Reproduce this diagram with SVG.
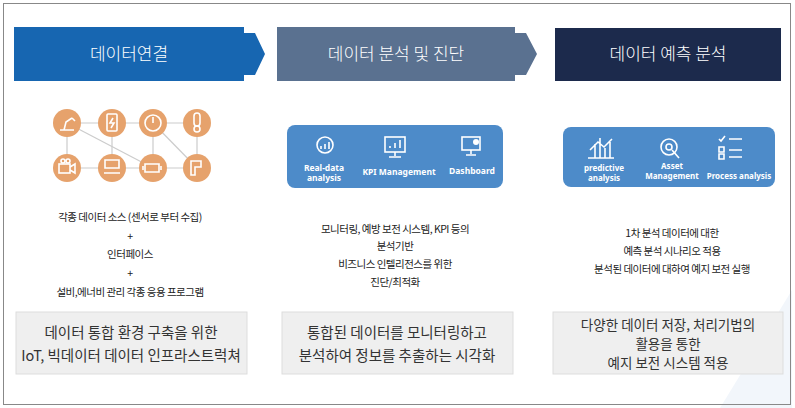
<svg xmlns="http://www.w3.org/2000/svg" width="795" height="408" viewBox="0 0 795 408">
<style>
.h{font-family:"Noto Sans CJK KR","Noto Sans",sans-serif;font-size:17px;font-weight:300;fill:#fff;text-anchor:middle}
.t{font-family:"Noto Sans CJK KR",sans-serif;font-size:10.5px;fill:#222;text-anchor:middle;letter-spacing:-0.5px}
.b{font-family:"Noto Sans CJK KR",sans-serif;font-size:14.5px;fill:#333;text-anchor:middle}
.b3{font-size:13.5px}
.w{font-family:"Noto Sans","Liberation Sans",sans-serif;font-size:8.5px;font-weight:bold;fill:#fff;text-anchor:middle}
.w3{font-size:8px}
.c{fill:#e6a26c}
.ln{stroke:#ccc;stroke-width:1.2}
.ic{fill:none;stroke:#fff;stroke-width:1.6}
.box{fill:#efefef;stroke:#ddd}
.pn{fill:#4d8bc9}
</style>
<rect x="0" y="0" width="795" height="408" fill="#fff"/>
<polygon points="720,408 792,408 792,290" fill="#f2f6fb"/>
<rect x="3.5" y="3.5" width="787" height="401" fill="none" stroke="#888" stroke-width="1"/>
<g id="connectors">
<polygon points="14,27 244,27 244,33 255,33 265,54 255,75 244,75 244,81 14,81" fill="#1766b1"/>
<polygon points="277,27 515,27 515,33 526,33 537,54 526,75 515,75 515,81 277,81" fill="#5a7190"/>
</g>
<g id="h1"><text class="h" x="129" y="60">데이터연결</text></g>
<g id="h2"><text class="h" x="396" y="60">데이터  분석 및 진단</text></g>
<g id="h3"><rect x="555" y="28" width="226" height="53" fill="#1c2a4c"/><text class="h" x="668" y="60">데이터 예측 분석</text></g>
<g id="icons1">
<g class="ln">
<line x1="67" y1="123" x2="197" y2="123"/><line x1="67" y1="168" x2="197" y2="168"/>
<line x1="67" y1="123" x2="67" y2="168"/><line x1="112" y1="123" x2="112" y2="168"/><line x1="153" y1="123" x2="153" y2="168"/><line x1="197" y1="123" x2="197" y2="168"/>
<line x1="67" y1="123" x2="153" y2="168"/><line x1="153" y1="123" x2="197" y2="168"/>
</g>
<circle class="c" cx="67" cy="123" r="14"/><circle class="c" cx="112" cy="123" r="14"/><circle class="c" cx="153" cy="123" r="14"/><circle class="c" cx="197" cy="123" r="14"/>
<circle class="c" cx="67" cy="168" r="14"/><circle class="c" cx="112" cy="168" r="14"/><circle class="c" cx="153" cy="168" r="14"/><circle class="c" cx="197" cy="168" r="14"/>
<path class="ic" d="M60 130h14M64 130l2-8 6-4M72 118l3 3"/>
<rect class="ic" x="107" y="114" width="10" height="17" rx="1"/><path class="ic" d="M113 118l-3 5h4l-3 5"/>
<circle class="ic" cx="153" cy="123" r="8"/><path class="ic" d="M153 117v6"/>
<rect class="ic" x="194" y="113" width="6" height="13" rx="3"/><circle class="ic" cx="197" cy="129" r="3"/>
<rect class="ic" x="59" y="164" width="11" height="9"/><path class="ic" d="M70 167l5-3v9l-5-3"/><circle class="ic" cx="63" cy="161" r="2"/><circle class="ic" cx="68" cy="161" r="2"/>
<path class="ic" d="M105 160h14v8h-14zM104 173h16"/>
<path class="ic" d="M145 164h14v8h-14zM143 166v4M161 166v4"/>
<path class="ic" d="M191 161h10v6h-6v8h-4z"/>
</g>
<g id="panel2">
<rect class="pn" x="287" y="125" width="216" height="63" rx="8"/>
<circle class="ic" cx="325" cy="145" r="8"/><path class="ic" d="M321 149v-3M325 149v-5M329 149v-7"/>
<rect class="ic" x="385" y="137" width="20" height="15"/><path class="ic" d="M395 152v4M389 157h12M390 148v-2M395 148v-5M400 148v-8"/>
<rect class="ic" x="462" y="137" width="18" height="13"/><path class="ic" d="M471 150v4M466 155h10"/><circle cx="476" cy="142" r="3" fill="#fff"/>
<text class="w" x="324" y="171">Real-data</text><text class="w" x="324" y="181">analysis</text>
<text class="w" x="399" y="175">KPI Management</text>
<text class="w" x="472" y="174">Dashboard</text>
</g>
<g id="panel3">
<rect class="pn" x="563" y="127" width="212" height="60" rx="8"/>
<path class="ic" d="M595 158v-14M600 158v-20M605 158v-10M610 158v-16M590 150l8-8 6 5 8-8M588 158h26"/>
<circle class="ic" cx="669" cy="147" r="8"/><circle class="ic" cx="669" cy="147" r="3"/><path class="ic" d="M672 150l7 8"/>
<path class="ic" d="M719 139l2 2 4-5M719 147h5v5h-5zM719 154h5v5h-5zM729 139h13M729 150h13M729 157h13"/>
<text class="w w3" x="604" y="171">predictive</text><text class="w w3" x="604" y="181">analysis</text>
<text class="w w3" x="672" y="169">Asset</text><text class="w w3" x="672" y="179">Management</text>
<text class="w w3" x="739" y="179">Process analysis</text>
</g>
<g id="text1">
<text class="t" x="130" y="221">각종 데이터 소스 (센서로 부터 수집)</text>
<text class="t" x="130" y="240">+</text>
<text class="t" x="130" y="258">인터페이스</text>
<text class="t" x="130" y="277">+</text>
<text class="t" x="130" y="296">설비,에너비 관리 각종 응용 프로그램</text>
</g>
<g id="text2">
<text class="t" x="395" y="233">모니터링, 예방 보전 시스템, KPI 등의</text>
<text class="t" x="395" y="250">분석기반</text>
<text class="t" x="395" y="268">비즈니스 인텔리전스를 위한</text>
<text class="t" x="395" y="286">진단/최적화</text>
</g>
<g id="text3">
<text class="t" x="672" y="237">1차 분석 데이터에 대한</text>
<text class="t" x="672" y="255">예측 분석 시나리오 적용</text>
<text class="t" x="672" y="273">분석된 데이터에 대하여 예지 보전 실행</text>
</g>
<g id="box1"><rect class="box" x="16" y="312" width="231" height="62"/>
<text class="b" x="131" y="338">데이터 통합 환경 구축을 위한</text><text class="b" x="131" y="361">IoT, 빅데이터 데이터 인프라스트럭쳐</text></g>
<g id="box2"><rect class="box" x="282" y="312" width="231" height="62"/>
<text class="b" x="397" y="338">통합된 데이터를 모니터링하고</text><text class="b" x="397" y="361">분석하여 정보를 추출하는 시각화</text></g>
<g id="box3"><rect class="box" x="553" y="312" width="230" height="62"/>
<text class="b b3" x="668" y="330">다양한 데이터 저장, 처리기법의</text><text class="b b3" x="668" y="349">활용을 통한</text><text class="b b3" x="668" y="368">예지 보전 시스템 적용</text></g>
</svg>
